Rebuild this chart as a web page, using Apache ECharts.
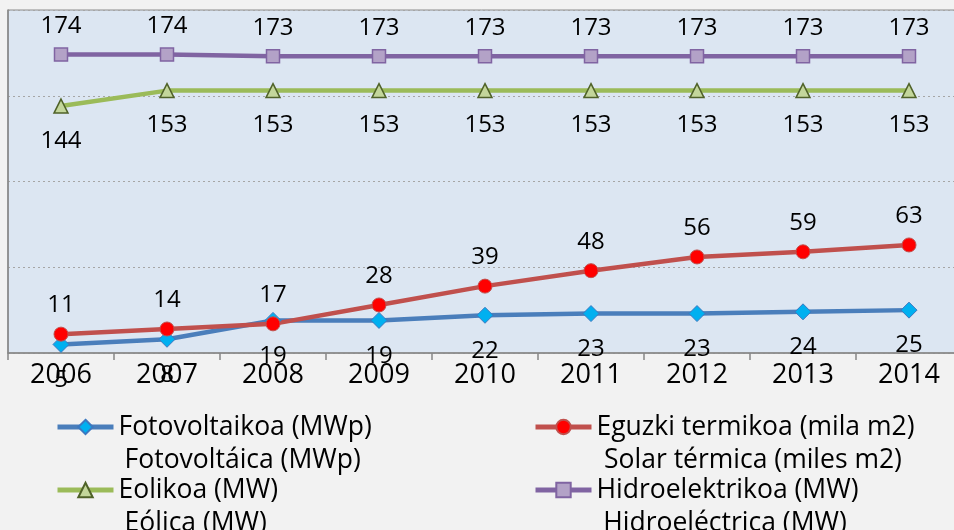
<!DOCTYPE html>
<html>
<head>
<meta charset="utf-8">
<script src="https://cdn.jsdelivr.net/npm/echarts@6/dist/echarts.min.js"></script>
<style>
html,body{margin:0;padding:0;background:#f2f2f2;}
#chart{width:954px;height:530px;}
</style>
</head>
<body>
<div id="chart"></div>
<script>
var years = ['2006','2007','2008','2009','2010','2011','2012','2013','2014'];
var fotovoltaikoa = [5, 8, 19, 19, 22, 23, 23, 24, 25];
var eguzkiTermikoa = [11, 14, 17, 28, 39, 48, 56, 59, 63];
var eolikoa = [144, 153, 153, 153, 153, 153, 153, 153, 153];
var hidroelektrikoa = [174, 174, 173, 173, 173, 173, 173, 173, 173];
var namesEu = ['Fotovoltaikoa (MWp)', 'Eguzki termikoa (mila m2)', 'Eolikoa (MW)', 'Hidroelektrikoa (MW)'];
var namesEs = ['Fotovoltáica (MWp)', 'Solar térmica (miles m2)', 'Eólica (MW)', 'Hidroeléctrica (MW)'];

var FONT = '"Open Sans", "Noto Sans", sans-serif';
var legendFontSize = 26.5;
var chart = echarts.init(document.getElementById('chart'), null, {renderer: 'canvas'});

function measure(t) {
  var c = document.createElement('canvas').getContext('2d');
  c.font = legendFontSize + 'px "Open Sans"';
  return c.measureText(t).width;
}

var labelTop = {show: true, position: 'top', distance: 9, color: '#000', fontSize: 24, fontFamily: FONT};
var labelBottom = {show: true, position: 'bottom', distance: 15, color: '#000', fontSize: 24, fontFamily: FONT};

var legendLeft = [55, 533];
var iconW = 56;
var textStart = [legendLeft[0] + iconW + 5, legendLeft[1] + iconW + 5];
var secondLineY = [460, 523];
var graphics = [];
[[0, 0, 0], [1, 1, 0], [2, 0, 1], [3, 1, 1]].forEach(function (p) {
  var idx = p[0], col = p[1], row = p[2];
  graphics.push({
    type: 'text',
    x: textStart[col] + measure(namesEu[idx]) / 2,
    y: secondLineY[row],
    style: {text: namesEs[idx], fill: '#000', font: legendFontSize + 'px ' + FONT, textAlign: 'center', textVerticalAlign: 'middle'}
  });
});

var legendCommon = {
  orient: 'vertical', top: 412, padding: 0, itemWidth: iconW, itemHeight: 18, itemGap: 33,
  textStyle: {fontSize: legendFontSize, fontFamily: FONT, color: '#000', lineHeight: 30},
  lineStyle: {width: 5},
  selectedMode: false
};

chart.setOption({
  animation: false,
  backgroundColor: '#f2f2f2',
  grid: {left: 8, top: 10, width: 954, bottom: 177, outerBoundsMode: 'none', containLabel: false,
         show: true, backgroundColor: '#dce6f2', borderColor: '#8c8c8c', borderWidth: 1},
  legend: [
    Object.assign({left: legendLeft[0], data: [namesEu[0], namesEu[2]]}, legendCommon),
    Object.assign({left: legendLeft[1], data: [namesEu[1], namesEu[3]]}, legendCommon)
  ],
  graphic: graphics,
  xAxis: {
    type: 'category', data: years, boundaryGap: true,
    axisLine: {lineStyle: {color: '#868686', width: 1.5}},
    axisTick: {show: true, length: 7, lineStyle: {color: '#868686', width: 1.5}},
    axisLabel: {color: '#000', fontSize: 27, fontFamily: FONT, margin: 9}
  },
  yAxis: {
    type: 'value', min: 0, max: 200, interval: 50,
    axisLine: {show: true, lineStyle: {color: '#868686', width: 1.5}},
    axisTick: {show: false}, axisLabel: {show: false},
    splitLine: {lineStyle: {color: '#a6a6a6', type: [2, 3], width: 1}}
  },
  series: [
    {name: namesEu[0], type: 'line', data: fotovoltaikoa, symbol: 'diamond', symbolSize: 16,
     lineStyle: {color: '#4a7ebb', width: 4.5}, itemStyle: {color: '#00b0f0', borderColor: '#3c78c0', borderWidth: 1},
     label: labelBottom},
    {name: namesEu[1], type: 'line', data: eguzkiTermikoa, symbol: 'circle', symbolSize: 14,
     lineStyle: {color: '#c0504d', width: 4.5}, itemStyle: {color: '#ff0000', borderColor: '#c0504d', borderWidth: 1},
     label: labelTop},
    {name: namesEu[2], type: 'line', data: eolikoa, symbol: 'triangle', symbolSize: 14,
     lineStyle: {color: '#9bbb59', width: 4.5}, itemStyle: {color: '#c3d69b', borderColor: '#4f6228', borderWidth: 1.5},
     label: labelBottom},
    {name: namesEu[3], type: 'line', data: hidroelektrikoa, symbol: 'rect', symbolSize: 13,
     lineStyle: {color: '#8064a2', width: 4.5}, itemStyle: {color: '#b3a2c7', borderColor: '#8064a2', borderWidth: 1.5},
     label: labelTop}
  ]
});
</script>
</body>
</html>
